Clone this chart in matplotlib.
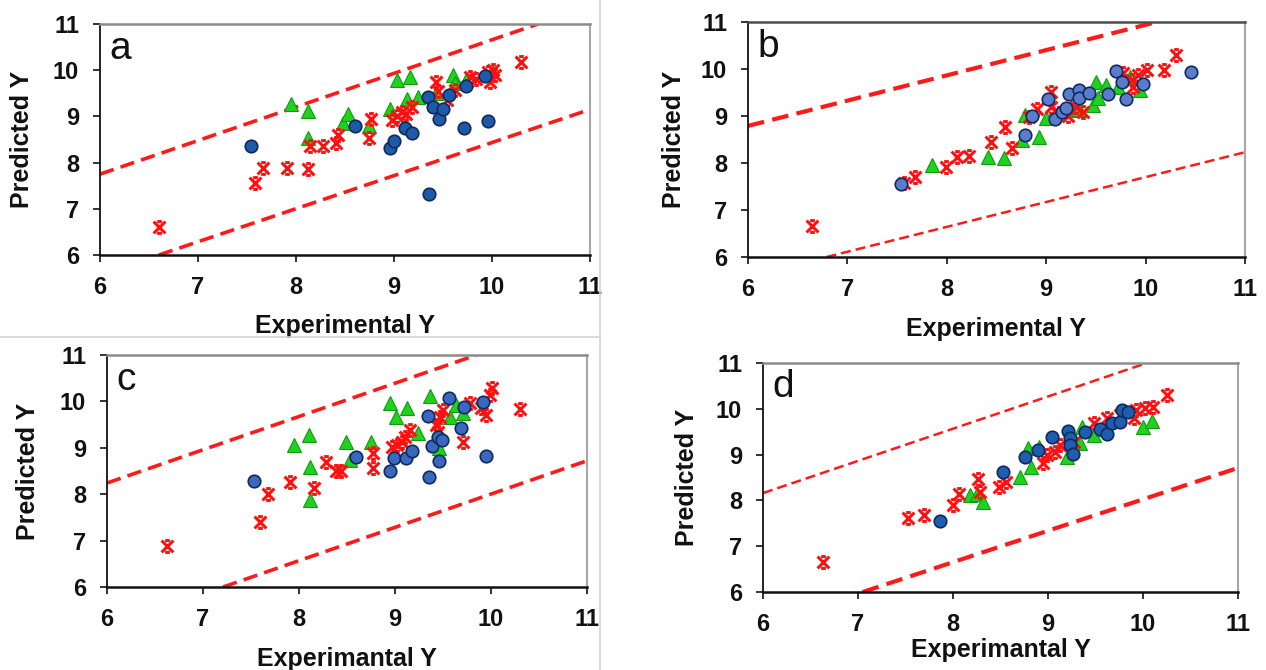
import matplotlib
matplotlib.use("Agg")
import matplotlib.pyplot as plt
from matplotlib.path import Path
from matplotlib.lines import Line2D

plt.rcParams['font.family'] = ['Liberation Sans', 'DejaVu Sans']

# ---------------- data ----------------
# panel a
a_star_x = [6.60, 7.58, 7.66, 7.91, 8.12, 8.14, 8.28, 8.41, 8.43, 8.75, 8.77, 8.98, 9.03, 9.08,
            9.12, 9.18, 9.43, 9.45, 9.54, 9.62, 9.78, 9.84, 9.96, 10.01, 9.98, 10.03, 10.30]
a_star_y = [6.60, 7.55, 7.89, 7.89, 7.86, 8.36, 8.36, 8.42, 8.60, 8.53, 8.94, 8.92, 9.00, 9.10,
            9.05, 9.20, 9.75, 9.54, 9.35, 9.57, 9.86, 9.82, 9.97, 10.00, 9.75, 9.90, 10.18]
a_tri_x = [7.95, 8.12, 8.12, 8.48, 8.53, 8.74, 8.96, 9.03, 9.16, 9.13, 9.25, 9.43, 9.60, 9.62, 9.74]
a_tri_y = [9.27, 9.12, 8.53, 8.85, 9.05, 8.79, 9.17, 9.79, 9.85, 9.37, 9.41, 9.50, 9.90, 9.72, 9.79]
a_dot_x = [7.54, 8.60, 8.96, 9.00, 9.11, 9.18, 9.35, 9.40, 9.46, 9.50, 9.56, 9.73, 9.71, 9.93, 9.96, 9.36]
a_dot_y = [8.36, 8.79, 8.32, 8.47, 8.74, 8.65, 9.41, 9.20, 8.94, 9.15, 9.46, 9.66, 8.74, 9.87, 8.89, 7.32]
a_up = ([6.0, 10.47], [7.75, 11.0])
a_lo = ([6.60, 11.0], [6.0, 9.15])

# panel b
b_star_x = [6.64, 7.57, 7.68, 7.99, 8.10, 8.22, 8.44, 8.59, 8.66, 8.83, 8.91, 9.05, 9.05, 9.13,
            9.22, 9.30, 9.37, 9.77, 9.86, 9.87, 9.92, 10.01, 10.19, 10.31]
b_star_y = [6.65, 7.57, 7.70, 7.92, 8.13, 8.16, 8.45, 8.77, 8.31, 8.99, 9.16, 9.52, 9.20, 9.06,
            9.00, 9.20, 9.09, 9.91, 9.77, 9.62, 9.87, 9.98, 9.99, 10.30]
b_tri_x = [7.85, 8.41, 8.58, 8.76, 8.79, 8.93, 9.00, 9.27, 9.33, 9.47, 9.52, 9.50, 9.60, 9.72, 9.94, 9.84]
b_tri_y = [7.96, 8.13, 8.10, 8.49, 9.02, 8.56, 8.95, 9.13, 9.16, 9.23, 9.38, 9.73, 9.66, 9.62, 9.55, 9.84]
b_dot_x = [7.54, 8.79, 8.86, 9.02, 9.09, 9.16, 9.20, 9.23, 9.33, 9.33, 9.43, 9.62, 9.70, 9.76,
           9.80, 9.97, 10.46]
b_dot_y = [7.55, 8.60, 9.00, 9.36, 8.94, 9.09, 9.18, 9.47, 9.55, 9.39, 9.50, 9.47, 9.96, 9.72,
           9.36, 9.68, 9.93]
b_up = ([6.0, 10.11], [8.79, 11.0])
b_lo = ([6.79, 11.0], [6.0, 8.23])

# panel c
c_star_x = [6.63, 7.59, 7.68, 7.91, 8.16, 8.28, 8.39, 8.44, 8.77, 8.77, 8.97, 9.02, 9.07, 9.10,
            9.16, 9.43, 9.47, 9.45, 9.50, 9.71, 9.78, 9.90, 9.95, 9.99, 10.01, 10.30]
c_star_y = [6.89, 7.39, 8.00, 8.27, 8.14, 8.70, 8.49, 8.49, 8.88, 8.57, 9.02, 9.06, 9.13, 9.24,
            9.38, 9.49, 9.67, 9.35, 9.81, 9.13, 9.96, 9.85, 9.71, 10.14, 10.28, 9.84]
c_tri_x = [7.95, 8.10, 8.11, 8.11, 8.49, 8.53, 8.75, 8.95, 9.01, 9.13, 9.24, 9.37, 9.46, 9.57, 9.64, 9.71]
c_tri_y = [9.05, 9.28, 8.59, 7.88, 9.13, 8.74, 9.13, 9.96, 9.67, 9.85, 9.31, 10.12, 8.99, 9.67, 9.92, 9.74]
c_dot_x = [7.53, 8.59, 8.95, 8.99, 9.11, 9.18, 9.34, 9.35, 9.39, 9.45, 9.49, 9.46, 9.56, 9.69,
           9.72, 9.92, 9.95]
c_dot_y = [8.29, 8.81, 8.50, 8.77, 8.79, 8.93, 9.69, 8.38, 9.04, 9.24, 9.17, 8.72, 10.07, 9.43,
           9.87, 9.98, 8.82]
c_up = ([6.0, 9.85], [8.24, 11.0])
c_lo = ([7.21, 11.0], [6.0, 8.72])

# panel d
d_star_x = [6.63, 7.53, 7.69, 8.00, 8.06, 8.26, 8.28, 8.48, 8.56, 8.95, 8.99, 9.07, 9.13, 9.27,
            9.48, 9.62, 9.76, 9.90, 9.93, 10.02, 10.11, 10.25]
d_star_y = [6.65, 7.61, 7.68, 7.91, 8.15, 8.47, 8.19, 8.30, 8.41, 8.81, 8.99, 9.06, 9.21, 9.28,
            9.68, 9.79, 9.86, 9.79, 9.97, 10.01, 10.05, 10.30]
d_tri_x = [8.18, 8.25, 8.32, 8.71, 8.82, 8.79, 8.90, 9.20, 9.34, 9.36, 9.48, 9.58, 10.00, 10.09]
d_tri_y = [8.12, 8.15, 7.96, 8.52, 8.74, 9.14, 9.17, 8.95, 9.25, 9.61, 9.43, 9.57, 9.61, 9.73]
d_dot_x = [7.86, 8.53, 8.76, 8.89, 9.04, 9.21, 9.23, 9.23, 9.26, 9.39, 9.55, 9.62, 9.67, 9.76,
           9.78, 9.84]
d_dot_y = [7.55, 8.63, 8.94, 9.10, 9.38, 9.52, 9.36, 9.21, 9.01, 9.49, 9.57, 9.46, 9.70, 9.72,
           9.97, 9.94]
d_up = ([6.0, 10.04], [8.16, 11.0])
d_lo = ([7.05, 11.0], [6.0, 8.71])

ticks = [6, 7, 8, 9, 10, 11]

# star marker: an X with short caps on top and bottom
star = Path([(-1, -1), (1, 1), (-1, 1), (1, -1), (-0.4, 1), (0.4, 1), (-0.4, -1), (0.4, -1)],
            [Path.MOVETO, Path.LINETO] * 4)

fig = plt.figure(figsize=(12.66, 6.70), dpi=100)
fig.patch.set_facecolor('white')

panels = [
    # letter, rect, data, xlabel, dot colour, up lw, lo lw, xlabel y, ylabel x, top spine
    ('a', [0.0790, 0.6194, 0.3870, 0.3448], (a_star_x, a_star_y, a_tri_x, a_tri_y, a_dot_x, a_dot_y, a_up, a_lo),
     'Experimental Y', '#1f5aa8', 2.6, 2.6, -0.255, -0.135, '#8c8c8c'),
    ('b', [0.5908, 0.6164, 0.3926, 0.3507], (b_star_x, b_star_y, b_tri_x, b_tri_y, b_dot_x, b_dot_y, b_up, b_lo),
     'Experimental Y', '#5b7ccb', 3.0, 1.8, -0.255, -0.125, '#4d4d4d'),
    ('c', [0.0845, 0.1239, 0.3791, 0.3463], (c_star_x, c_star_y, c_tri_x, c_tri_y, c_dot_x, c_dot_y, c_up, c_lo),
     'Experimantal Y', '#3a68bc', 2.6, 2.6, -0.26, -0.14, '#8c8c8c'),
    ('d', [0.6027, 0.1164, 0.3752, 0.3418], (d_star_x, d_star_y, d_tri_x, d_tri_y, d_dot_x, d_dot_y, d_up, d_lo),
     'Experimantal Y', '#1f5db0', 1.8, 3.0, -0.2, -0.135, '#8c8c8c'),
]

for letter, rect, data, xlab, dotc, lw_up, lw_lo, xly, ylx, topc in panels:
    sx, sy, tx, ty, dx, dy, up, lo = data
    ax = fig.add_axes(rect)
    ax.plot(up[0], up[1], color='#ff1a1a', lw=lw_up, ls=(0, (4, 2)), zorder=1)
    ax.plot(lo[0], lo[1], color='#ff1a1a', lw=lw_lo, ls=(0, (4, 2)), zorder=1)
    ax.plot(tx, ty, ls='none', marker='^', ms=10, mfc='#1ed21e', mec='#129a12', mew=0.8, zorder=2)
    ax.plot(sx, sy, ls='none', marker=star, ms=8.5, mfc='none', mec='#ff1010', mew=2.2, zorder=3)
    ax.plot(dx, dy, ls='none', marker='o', ms=9, mfc=dotc, mec='#0e2a5e', mew=1.2, zorder=4)

    ax.set_xlim(6, 11)
    ax.set_ylim(6, 11)
    ax.set_xticks(ticks)
    ax.set_yticks(ticks)
    ax.tick_params(direction='out', length=5, width=1.2, labelsize=17, pad=10, colors='#111111')
    for lab in ax.get_xticklabels() + ax.get_yticklabels():
        lab.set_fontweight('bold')
    ax.spines['left'].set_color('#111111')
    ax.spines['left'].set_linewidth(1.3)
    ax.spines['bottom'].set_color('#111111')
    ax.spines['bottom'].set_linewidth(1.8)
    ax.spines['top'].set_color(topc)
    ax.spines['top'].set_linewidth(1.8)
    ax.spines['right'].set_color('#a6a6a6')
    ax.spines['right'].set_linewidth(1.5)

    ax.set_xlabel(xlab, fontsize=18, fontweight='bold', color='#111111')
    ax.set_ylabel('Predicted Y', fontsize=18, fontweight='bold', color='#111111')
    ax.xaxis.set_label_coords(0.5, xly)
    ax.yaxis.set_label_coords(ylx, 0.5)
    ax.text(0.02, 0.85, letter, transform=ax.transAxes, fontsize=28, color='#111111')

# thin frame lines around the left-hand panels
fig.add_artist(Line2D([600 / 1266, 600 / 1266], [1.0, 335 / 670], transform=fig.transFigure,
                      color='#d4d4d4', lw=1.2))
fig.add_artist(Line2D([0.0, 600 / 1266], [333 / 670, 333 / 670], transform=fig.transFigure,
                      color='#d4d4d4', lw=1.2))
fig.add_artist(Line2D([600 / 1266, 600 / 1266], [332 / 670, 0.0], transform=fig.transFigure,
                      color='#d4d4d4', lw=1.2))

plt.savefig("out.png", dpi=100)
